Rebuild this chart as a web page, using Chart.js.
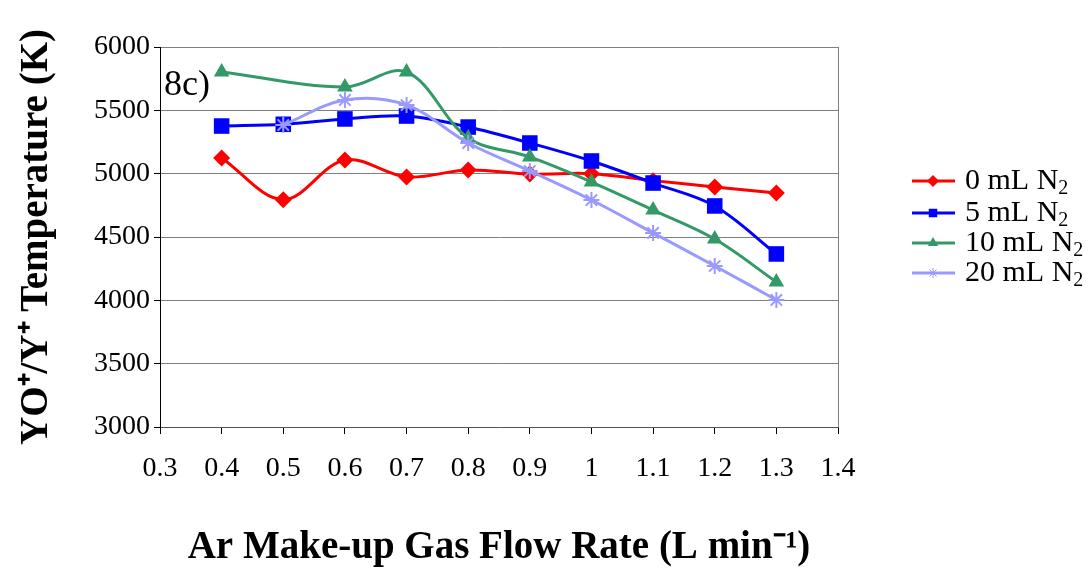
<!DOCTYPE html>
<html>
<head>
<meta charset="utf-8">
<script src="https://cdn.jsdelivr.net/npm/chart.js@4/dist/chart.umd.min.js"></script>
<style>
  html, body { margin: 0; padding: 0; background: #fff; }
  #wrap { width: 1091px; height: 572px; position: relative; }
</style>
</head>
<body>
<div id="wrap"><canvas id="chart"></canvas></div>
<script>
// Datos
const flow = [0.4, 0.5, 0.6, 0.7, 0.8, 0.9, 1.0, 1.1, 1.2, 1.3];
const n2_0 = [5124, 4795, 5108, 4974, 5029, 4997, 5000, 4945, 4895, 4847];
const n2_5 = [5376, 5390, 5432, 5455, 5368, 5242, 5100, 4926, 4745, 4366];
const n2_10 = [5803, null, 5684, 5803, 5282, 5132, 4934, 4713, 4484, 4145];
const n2_20 = [null, 5384, 5582, 5542, 5242, 5021, 4792, 4532, 4271, 4003];
const seriesNames = ['0 mL N', '5 mL N', '10 mL N', '20 mL N'];
const yTicks = [3000, 3500, 4000, 4500, 5000, 5500, 6000];

const serif = '"Liberation Serif", "Times New Roman", serif';

// Convierte a puntos {x, y} saltando los vacíos
function toPoints(values){
    return flow.map((x, i) => ({ x: x, y: values[i] })).filter(p => p.y !== null);
}

const styles = [
    { color: '#FF0000', point: 'rectRot', radius: 8.5 },
    { color: '#0000FF', point: 'rect', radius: 11 },
    { color: '#339966', point: 'triangle', radius: 9 },
    { color: '#9999FF', point: 'star', radius: 8 }
];

const datasets = [n2_0, n2_5, n2_10, n2_20].map((vals, i) => ({
    label: seriesNames[i],
    data: toPoints(vals),
    borderColor: styles[i].color,
    backgroundColor: styles[i].color,
    borderWidth: 3,
    pointStyle: styles[i].point,
    pointRadius: styles[i].radius,
    pointBorderWidth: i == 3 ? 2 : 0,
    pointBorderColor: styles[i].color,
    pointBackgroundColor: styles[i].color,
    tension: 0.35,
    order: 3 - i
}));

// Leyenda, etiqueta "8c)" y borde derecho
const extras = {
    id: 'extras',
    afterDraw(chart){
        const c = chart.ctx;
        const area = chart.chartArea;
        c.save();
        c.strokeStyle = '#808080';
        c.lineWidth = 1;
        c.beginPath();
        c.moveTo(area.right + 0.5, area.top);
        c.lineTo(area.right + 0.5, area.bottom);
        c.stroke();

        c.fillStyle = '#000';
        c.font = '36px ' + serif;
        c.textBaseline = 'middle';
        c.textAlign = 'left';
        c.fillText('8c)', 164, 86);

        const rows = [181, 213, 243, 273];
        rows.forEach((y, i) => {
            const s = styles[i];
            c.strokeStyle = s.color;
            c.lineWidth = 3;
            c.beginPath();
            c.moveTo(912, y);
            c.lineTo(955, y);
            c.stroke();
            c.fillStyle = s.color;
            c.strokeStyle = s.color;
            c.lineWidth = i == 3 ? 1 : 0;
            Chart.helpers.drawPoint(c, { pointStyle: s.point, radius: i == 3 ? 5 : 6, borderWidth: i == 3 ? 1 : 0 }, 933, y);
            c.fillStyle = '#000';
            c.font = '30px ' + serif;
            c.textBaseline = 'middle';
            c.fillText(seriesNames[i], 965, y);
            const w = c.measureText(seriesNames[i]).width;
            c.font = '20px ' + serif;
            c.fillText('2', 965 + w, y + 8);
        });
        c.restore();
    }
};

new Chart(document.getElementById('chart'), {
    type: 'line',
    data: { datasets: datasets },
    options: {
        responsive: true,
        maintainAspectRatio: false,
        animation: false,
        layout: { padding: { top: 47, right: 253, bottom: 0, left: 0 } },
        plugins: { legend: { display: false }, tooltip: { enabled: false } },
        scales: {
            x: {
                type: 'linear',
                min: 0.3,
                max: 1.4,
                afterFit: function(scale){ scale.height = 145; },
                afterBuildTicks: function(scale){
                    scale.ticks = flow.concat([0.3, 1.4]).sort((a, b) => a - b).map(v => ({ value: v }));
                },
                ticks: {
                    font: { family: serif, size: 28 },
                    color: '#000',
                    padding: 18,
                    maxRotation: 0,
                    autoSkip: false,
                    callback: v => Number(v.toFixed(1)).toString()
                },
                grid: { drawOnChartArea: false, drawTicks: true, tickLength: 7, tickColor: '#000' },
                border: { color: '#555', width: 1 },
                title: {
                    display: true,
                    text: 'Ar Make-up Gas Flow Rate (L min\u207B\u00B9)',
                    font: { family: serif, size: 39, weight: 'bold' },
                    color: '#000',
                    padding: { top: 0, bottom: 1 }
                }
            },
            y: {
                min: 3000,
                max: 6000,
                afterFit: function(scale){ scale.width = 160; },
                afterBuildTicks: function(scale){
                    scale.ticks = yTicks.map(v => ({ value: v }));
                },
                ticks: {
                    font: { family: serif, size: 28 },
                    color: '#000',
                    padding: 4,
                    callback: v => String(v)
                },
                grid: { color: '#808080', lineWidth: 1, tickLength: 6, tickColor: '#000' },
                border: { color: '#000', width: 1 },
                title: {
                    display: true,
                    text: 'YO\u207A/Y\u207A Temperature (K)',
                    font: { family: serif, size: 39, weight: 'bold' },
                    color: '#000',
                    padding: { top: 14, bottom: 0 }
                }
            }
        }
    },
    plugins: [extras]
});
</script>
</body>
</html>
